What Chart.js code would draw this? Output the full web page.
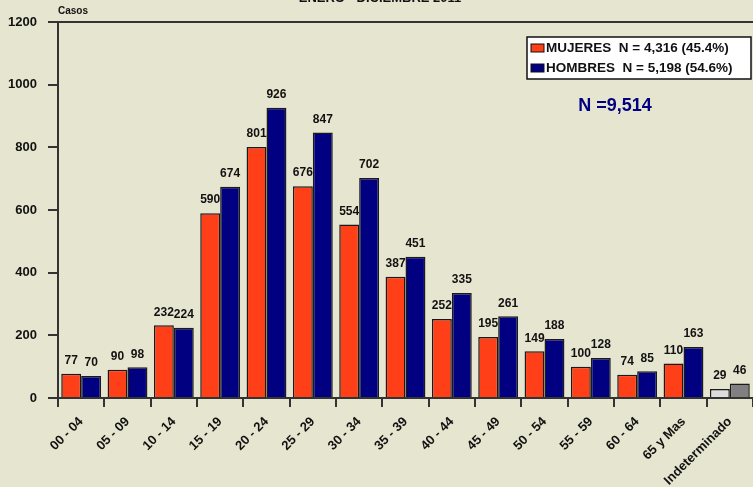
<!DOCTYPE html>
<html>
<head>
<meta charset="utf-8">
<script src="https://cdn.jsdelivr.net/npm/chart.js@4"></script>
<style>
  html, body { margin: 0; padding: 0; background: #e6e5d0; }
  #wrap { width: 753px; height: 487px; position: relative; }
</style>
</head>
<body>
<div id="wrap"><canvas id="chart"></canvas></div>
<script>
const categories = ["00 - 04", "05 - 09", "10 - 14", "15 - 19", "20 - 24", "25 - 29", "30 - 34",
  "35 - 39", "40 - 44", "45 - 49", "50 - 54", "55 - 59", "60 - 64", "65 y Mas", "Indeterminado"];
const mujeres = [77, 90, 232, 590, 801, 676, 554, 387, 252, 195, 149, 100, 74, 110, 29];
const hombres = [70, 98, 224, 674, 926, 847, 702, 451, 335, 261, 188, 128, 85, 163, 46];
const yTicks = [0, 200, 400, 600, 800, 1000, 1200];
const legendLabels = ["MUJERES  N = 4,316 (45.4%)", "HOMBRES  N = 5,198 (54.6%)"];
const titleText = "ENERO - DICIEMBRE 2011";
const totalText = "N =9,514";

const RED = "#ff3f17";
const NAVY = "#000080";
const FONT = "Liberation Sans, Arial, sans-serif";

// la ultima categoria va en gris
const redColors = categories.map((c, i) => i === categories.length - 1 ? "#dcdcdc" : RED);
const navyColors = categories.map((c, i) => i === categories.length - 1 ? "#808080" : NAVY);

const extras = {
  id: "extras",
  afterDatasetsDraw(chart) {
    const ctx = chart.ctx;
    const area = chart.chartArea;
    ctx.save();

    // linea superior
    ctx.strokeStyle = "#333";
    ctx.lineWidth = 2;
    ctx.beginPath();
    ctx.moveTo(area.left, area.top);
    ctx.lineTo(area.right, area.top);
    ctx.stroke();

    // valores encima de las barras
    ctx.fillStyle = "#111";
    ctx.font = "bold 12px " + FONT;
    ctx.textAlign = "center";
    ctx.textBaseline = "bottom";
    chart.data.datasets.forEach((ds, di) => {
      chart.getDatasetMeta(di).data.forEach((bar, i) => {
        ctx.fillText(ds.data[i], bar.x, bar.y - 7);
      });
    });

    // titulo cortado
    ctx.font = "bold 13px " + FONT;
    ctx.fillText(titleText, 380, 5);

    // Casos
    ctx.font = "bold 10px " + FONT;
    ctx.textAlign = "left";
    ctx.fillText("Casos", area.left, 16);

    // leyenda
    const lx = 527, ly = 37, lw = 224, lh = 42;
    ctx.fillStyle = "#ffffff";
    ctx.fillRect(lx, ly, lw, lh);
    ctx.strokeStyle = "#111";
    ctx.lineWidth = 1.5;
    ctx.strokeRect(lx, ly, lw, lh);
    ctx.font = "bold 13.5px " + FONT;
    ctx.textBaseline = "middle";
    [RED, NAVY].forEach((col, i) => {
      const y = ly + 11 + i * 20;
      ctx.fillStyle = col;
      ctx.fillRect(lx + 4, y - 4, 13, 8);
      ctx.strokeStyle = "#111";
      ctx.lineWidth = 1;
      ctx.strokeRect(lx + 4, y - 4, 13, 8);
      ctx.fillStyle = "#111";
      ctx.fillText(legendLabels[i], lx + 19, y);
    });

    // total
    ctx.fillStyle = NAVY;
    ctx.font = "bold 18px " + FONT;
    ctx.textAlign = "center";
    ctx.fillText(totalText, 615, 106);
    ctx.restore();
  }
};

new Chart(document.getElementById("chart"), {
  type: "bar",
  data: {
    labels: categories,
    datasets: [
      { label: "MUJERES", data: mujeres, backgroundColor: redColors, borderColor: "#1a1a1a", borderWidth: 1.5 },
      { label: "HOMBRES", data: hombres, backgroundColor: navyColors, borderColor: "#1a1a1a", borderWidth: 1.5 }
    ]
  },
  options: {
    responsive: true,
    maintainAspectRatio: false,
    animation: false,
    layout: { padding: { top: 22, right: 0, left: 0, bottom: 0 } },
    datasets: { bar: { categoryPercentage: 0.86, barPercentage: 1 } },
    plugins: { legend: { display: false }, tooltip: { enabled: false } },
    scales: {
      x: {
        grid: { drawOnChartArea: false, tickLength: 9, color: "#333", lineWidth: 2 },
        border: { color: "#333", width: 2 },
        ticks: {
          color: "#111", font: { family: FONT, size: 13, weight: "bold" },
          minRotation: 45, maxRotation: 45, autoSkip: false, padding: 7
        },
        afterFit(scale) { scale.height = 89; }
      },
      y: {
        min: 0, max: 1200,
        afterBuildTicks(scale) { scale.ticks = yTicks.map(v => ({ value: v })); },
        grid: { drawOnChartArea: false, tickLength: 10, color: "#333", lineWidth: 2 },
        border: { color: "#333", width: 2 },
        ticks: {
          color: "#111", font: { family: FONT, size: 13, weight: "bold" }, padding: 11,
          callback: v => String(v)
        },
        afterFit(scale) { scale.width = 58; }
      }
    }
  },
  plugins: [extras]
});
</script>
</body>
</html>
